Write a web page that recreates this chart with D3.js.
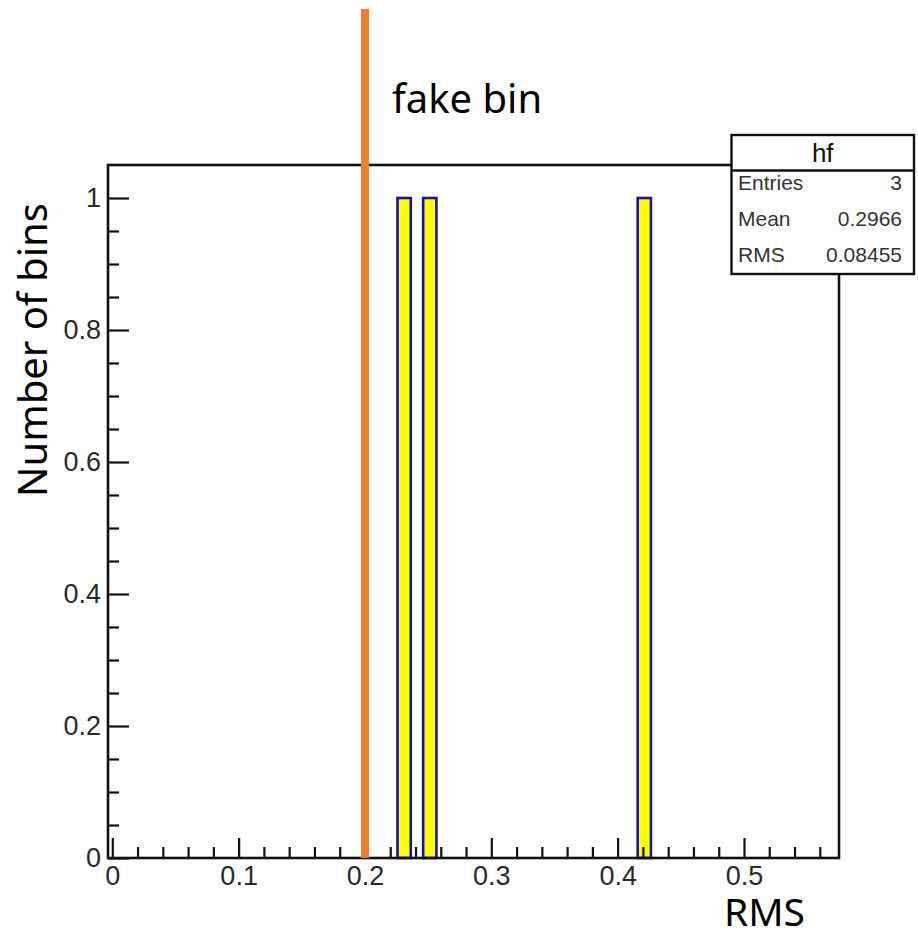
<!DOCTYPE html>
<html>
<head>
<meta charset="utf-8">
<script src="https://cdn.jsdelivr.net/npm/d3@7"></script>
<style>
  html, body { margin: 0; padding: 0; background: #fff; }
  svg { display: block; }
</style>
</head>
<body>
<svg id="chart" width="918" height="937"></svg>
<script>
// Histogram "hf": RMS values per bin
const binCenters = [0.2310, 0.2513, 0.4211];
const binCounts = [1, 1, 1];
const binWidth = 0.0105;

// Axis ranges and ticks
const xRange = [-0.0034, 0.5752];
const yRange = [0, 1.05];
const xMajorTicks = [0, 0.1, 0.2, 0.3, 0.4, 0.5];
const xTickLabels = ["0", "0.1", "0.2", "0.3", "0.4", "0.5"];
const xMinorStep = 0.02;
const yMajorTicks = [0, 0.2, 0.4, 0.6, 0.8, 1];
const yTickLabels = ["0", "0.2", "0.4", "0.6", "0.8", "1"];
const yMinorStep = 0.05;

// Marker for the fake bin
const fakeBinX = 0.2;
const fakeBinLabel = "fake bin";

// Statistics box
const statsTitle = "hf";
const statsLabels = ["Entries", "Mean", "RMS"];
const statsValues = ["3", "0.2966", "0.08455"];

const xTitle = "RMS";
const yTitle = "Number of bins";

const svg = d3.select("#chart");
const frame = { left: 108, right: 839, top: 165, bottom: 858 };

const x = d3.scaleLinear().domain(xRange).range([frame.left, frame.right]);
const y = d3.scaleLinear().domain(yRange).range([frame.bottom, frame.top]);

const rootFont = "'Liberation Sans', Arial, Helvetica, sans-serif";
const titleFont = "'Noto Sans', 'Open Sans', sans-serif";

// Histogram bars
svg.append("g")
  .selectAll("rect")
  .data(binCenters.map((c, i) => ({ c, n: binCounts[i] })))
  .join("rect")
  .attr("x", d => x(d.c - binWidth / 2))
  .attr("width", d => x(d.c + binWidth / 2) - x(d.c - binWidth / 2))
  .attr("y", d => y(d.n))
  .attr("height", d => y(0) - y(d.n))
  .attr("fill", "#ffff00")
  .attr("stroke", "#1212b4")
  .attr("stroke-width", 2.6);

// Minor tick values
const xMinor = d3.range(0, xRange[1], xMinorStep).filter(v => !xMajorTicks.some(m => Math.abs(m - v) < 1e-6));
const yMinor = d3.range(0, yRange[1] - 1e-6, yMinorStep).filter(v => !yMajorTicks.some(m => Math.abs(m - v) < 1e-6));

// Bottom axis: ticks point into the frame
const xAxisMajor = d3.axisBottom(x).tickValues(xMajorTicks).tickSizeInner(-20).tickSizeOuter(0)
  .tickFormat((d, i) => xTickLabels[i]).tickPadding(8);
const xAxisMinor = d3.axisBottom(x).tickValues(xMinor).tickSizeInner(-11).tickSizeOuter(0).tickFormat("");

const gx = svg.append("g").attr("transform", `translate(0,${frame.bottom})`);
gx.call(xAxisMajor);
gx.append("g").call(xAxisMinor);
gx.selectAll(".domain").remove();
gx.selectAll("line").attr("stroke", "#111").attr("stroke-width", 2.2);
gx.selectAll("text")
  .attr("font-family", rootFont).attr("font-size", 27).attr("fill", "#2a2a2a");

// Left axis: ticks point into the frame
const yAxisMajor = d3.axisLeft(y).tickValues(yMajorTicks).tickSizeInner(-21).tickSizeOuter(0)
  .tickFormat((d, i) => yTickLabels[i]).tickPadding(7);
const yAxisMinor = d3.axisLeft(y).tickValues(yMinor).tickSizeInner(-11).tickSizeOuter(0).tickFormat("");

const gy = svg.append("g").attr("transform", `translate(${frame.left},0)`);
gy.call(yAxisMajor);
gy.append("g").call(yAxisMinor);
gy.selectAll(".domain").remove();
gy.selectAll("line").attr("stroke", "#111").attr("stroke-width", 2.2);
gy.selectAll("text")
  .attr("font-family", rootFont).attr("font-size", 27).attr("fill", "#2a2a2a");

// Frame
svg.append("rect")
  .attr("x", frame.left).attr("y", frame.top)
  .attr("width", frame.right - frame.left).attr("height", frame.bottom - frame.top)
  .attr("fill", "none").attr("stroke", "#111").attr("stroke-width", 2.6);

// Fake bin marker line
svg.append("line")
  .attr("x1", x(fakeBinX)).attr("x2", x(fakeBinX))
  .attr("y1", 9).attr("y2", frame.bottom)
  .attr("stroke", "#ed7d31").attr("stroke-width", 8);

svg.append("text")
  .attr("x", 392).attr("y", 113)
  .attr("font-family", titleFont).attr("font-size", 40).attr("fill", "#000")
  .text(fakeBinLabel);

// Statistics box
const box = { left: 731.5, right: 914, top: 135, sep: 170.5, bottom: 274 };
const gs = svg.append("g");
gs.append("rect")
  .attr("x", box.left).attr("y", box.top)
  .attr("width", box.right - box.left).attr("height", box.bottom - box.top)
  .attr("fill", "#fff").attr("stroke", "#111").attr("stroke-width", 2.4);
gs.append("line")
  .attr("x1", box.left).attr("x2", box.right).attr("y1", box.sep).attr("y2", box.sep)
  .attr("stroke", "#111").attr("stroke-width", 2.4);
gs.append("text")
  .attr("x", (box.left + box.right) / 2).attr("y", 162)
  .attr("text-anchor", "middle")
  .attr("font-family", rootFont).attr("font-size", 26).attr("fill", "#111")
  .text(statsTitle);
const rowY = d3.scalePoint().domain(statsLabels).range([190, 262]);
gs.selectAll("text.lbl").data(statsLabels).join("text")
  .attr("class", "lbl")
  .attr("x", 738).attr("y", d => rowY(d))
  .attr("font-family", rootFont).attr("font-size", 21).attr("fill", "#333")
  .text(d => d);
gs.selectAll("text.val").data(statsValues).join("text")
  .attr("class", "val")
  .attr("x", 902).attr("y", (d, i) => rowY(statsLabels[i]))
  .attr("text-anchor", "end")
  .attr("font-family", rootFont).attr("font-size", 21).attr("fill", "#333")
  .text(d => d);

// Axis titles
svg.append("text")
  .attr("x", 805).attr("y", 926)
  .attr("text-anchor", "end")
  .attr("font-family", titleFont).attr("font-size", 39).attr("fill", "#000")
  .text(xTitle);

svg.append("text")
  .attr("transform", "translate(47,350) rotate(-90)")
  .attr("text-anchor", "middle")
  .attr("font-family", titleFont).attr("font-size", 40).attr("fill", "#000")
  .text(yTitle);
</script>
</body>
</html>
